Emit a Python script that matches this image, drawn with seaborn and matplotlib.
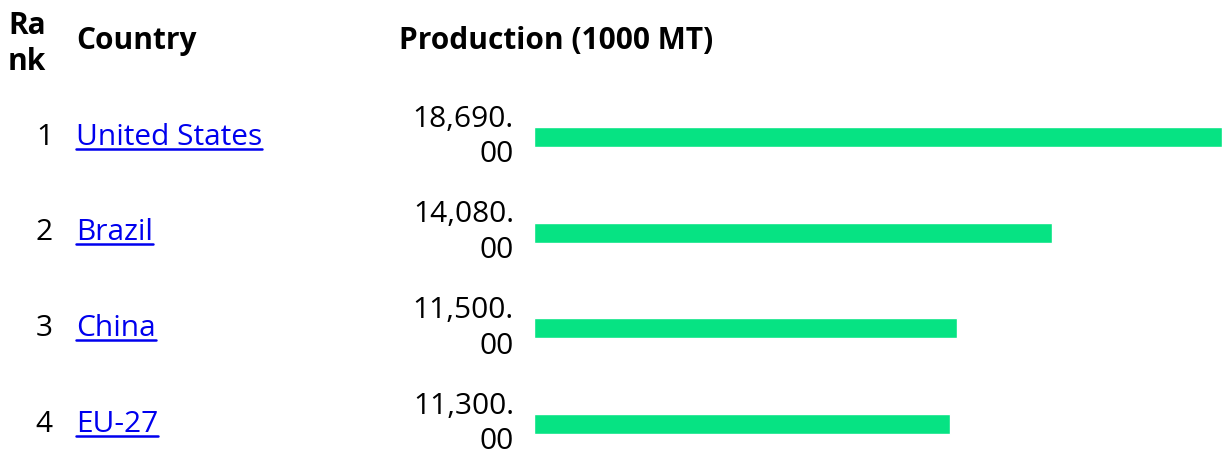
import numpy as np
import pandas as pd
import seaborn as sns
import matplotlib.pyplot as plt
from matplotlib.transforms import blended_transform_factory

# data
ranks = [1, 2, 3, 4]
countries = ["United States", "Brazil", "China", "EU-27"]
production = [18690.00, 14080.00, 11500.00, 11300.00]

df = pd.DataFrame({"rank": ranks, "country": countries, "production": production})

sns.set_style("white")
plt.rcParams['font.family'] = ['Open Sans', 'DejaVu Sans']
plt.rcParams['text.color'] = 'black'

W, H = 1225, 454
fig = plt.figure(figsize=(W / 100, H / 100), dpi=100)
ax = fig.add_axes([534 / W, 0, (1222 - 534) / W, 1])

sns.barplot(data=df, x="production", y="country", orient="h", color="#06e383",
            width=0.21, saturation=1, ax=ax)
ax.set_xlim(0, df["production"].max())
ax.set_ylim(3.313, -1.432)
ax.axis("off")

tr = blended_transform_factory(fig.transFigure, ax.transData)
fs = 21.5

# headers
ax.text(8 / W, -0.97, "Ra\nnk", transform=tr, fontsize=fs, fontweight="bold",
        ha="left", va="center", linespacing=1.25)
ax.text(76 / W, -1.0, "Country", transform=tr, fontsize=fs, fontweight="bold",
        ha="left", va="center")
ax.text(399 / W, -1.0, "Production (1000 MT)", transform=tr, fontsize=fs,
        fontweight="bold", ha="left", va="center")

links = []
for i, row in df.iterrows():
    ax.text(53 / W, i, str(row["rank"]), transform=tr, fontsize=fs,
            ha="right", va="center")
    t = ax.text(76 / W, i, row["country"], transform=tr, fontsize=fs,
                ha="left", va="center", color="#0000ee")
    links.append(t)
    val = f"{row['production']:,.2f}"
    a, b = val.split(".")
    ax.text(514 / W, i, a + ".\n" + b, transform=tr, fontsize=fs,
            ha="right", va="center", multialignment="right", linespacing=1.3)

# underline the country links
fig.canvas.draw()
inv = fig.transFigure.inverted()
for t in links:
    bb = t.get_window_extent()
    x0, y0 = inv.transform((bb.x0, bb.y0))
    x1, _ = inv.transform((bb.x1, bb.y0))
    fig.add_artist(plt.Line2D([x0, x1], [y0 + 3 / H, y0 + 3 / H], color="#0000ee", lw=1.8))

fig.savefig("out.png", dpi=100)
